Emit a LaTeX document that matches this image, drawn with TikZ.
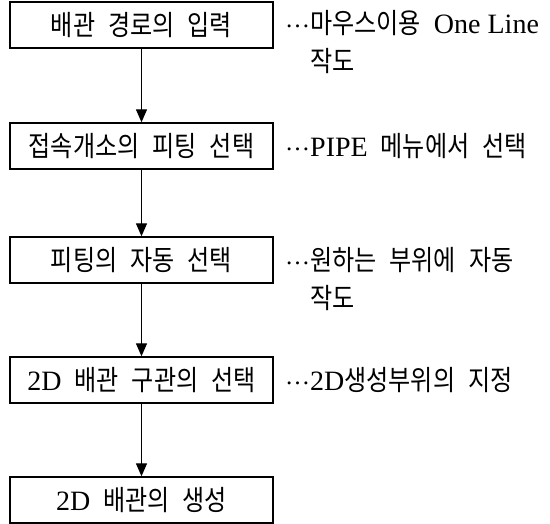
\documentclass[tikz,border=0pt]{standalone}
\usepackage{fontspec}
\setmainfont[FakeStretch=0.86]{Noto Sans CJK KR}
\newfontfamily\lat[Scale=1.0]{Liberation Serif}
\usetikzlibrary{arrows.meta}
\newcommand\gp{\hspace{13pt}}
\newcommand\dts{\raisebox{6pt}{\lat\fontsize{25pt}{25pt}\selectfont …}}
\tikzset{
  stepbox/.style={draw, line width=1.4pt, minimum width=263pt, minimum height=46pt, inner sep=0pt,
    font=\fontsize{28pt}{32pt}\selectfont},
  flow/.style={line width=1.3pt, -{Triangle[length=13pt,width=11pt]}},
  note/.style={anchor=north west, inner sep=0pt, align=left,
    font=\fontsize{28pt}{38pt}\selectfont}
}
\begin{document}
\begin{tikzpicture}[x=1pt,y=-1pt]
\useasboundingbox (0,0) rectangle (550,524);
\node[stepbox] (b1) at (141.5,25)  {배관\gp 경로의\gp 입력\hspace{18pt}};
\node[stepbox] (b2) at (141.5,146) {접속개소의\gp 피팅\gp 선택};
\node[stepbox] (b3) at (141.5,260) {피팅의\gp 자동\gp 선택\hspace{24pt}};
\node[stepbox] (b4) at (141.5,380) {{\lat 2D}\gp 배관\gp 구관의\gp 선택};
\node[stepbox] (b5) at (141.5,500) {{\lat 2D}\gp 배관의\gp 생성\hspace{16pt}};
\draw[flow] (b1) -- (b2);
\draw[flow] (b2) -- (b3);
\draw[flow] (b3) -- (b4);
\draw[flow] (b4) -- (b5);
\node[note] (n1) at (285,10)  {\dts 마우스이용\gp{\lat One Line}\\\phantom{\dts}작도};
\node[note] (n2) at (285,133) {\dts{\lat PIPE}\gp 메뉴에서\gp 선택};
\node[note] (n3) at (285,247) {\dts 원하는\gp 부위에\gp 자동\\\phantom{\dts}작도};
\node[note] (n4) at (285,367) {\dts{\lat 2D}생성부위의\gp 지정};
\end{tikzpicture}
\end{document}
